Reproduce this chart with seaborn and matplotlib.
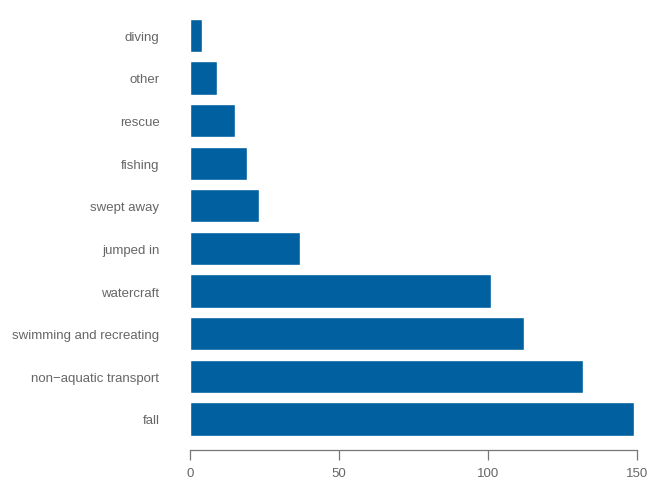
import matplotlib
matplotlib.use("Agg")
import matplotlib.pyplot as plt
import seaborn as sns
import pandas as pd

categories = ["diving", "other", "rescue", "fishing", "swept away", "jumped in",
              "watercraft", "swimming and recreating", "non\u2212aquatic transport", "fall"]
values = [4, 9, 15, 19, 23, 37, 101, 112, 132, 149]
xticks = [0, 50, 100, 150]

sns.set_theme(style="white")
plt.rcParams['font.family'] = ['Liberation Sans', 'DejaVu Sans']

df = pd.DataFrame({"category": categories, "count": values})

fig = plt.figure(figsize=(6.51, 4.85), dpi=100)
W, H = 651, 485
top_px, bot_px = 15, 441.3
ax = fig.add_axes([190 / W, 1 - bot_px / H, (637 - 190) / W, (bot_px - top_px) / H])

sns.barplot(data=df, x="count", y="category", orient="h", color="#0060A0",
            saturation=1, width=0.78, ax=ax)

ax.set_xlim(0, 150)
ax.set_ylim(len(categories) - 0.5, -0.5)
ax.set_xticks(xticks)
ax.set_xticklabels([str(t) for t in xticks])
ax.set_xlabel("")
ax.set_ylabel("")

for s in ["top", "right", "left"]:
    ax.spines[s].set_visible(False)
ax.spines["bottom"].set_position(("outward", 7))
ax.spines["bottom"].set_color("#777777")
ax.spines["bottom"].set_linewidth(0.9)

ax.tick_params(axis="x", bottom=True, direction="out", length=7, width=0.9, color="#777777",
               labelsize=9.5, labelcolor="#666666", pad=5)
ax.tick_params(axis="y", left=False, length=0, labelsize=9.5, labelcolor="#666666", pad=22)
ax.grid(False)

fig.savefig("out.png", dpi=100)
